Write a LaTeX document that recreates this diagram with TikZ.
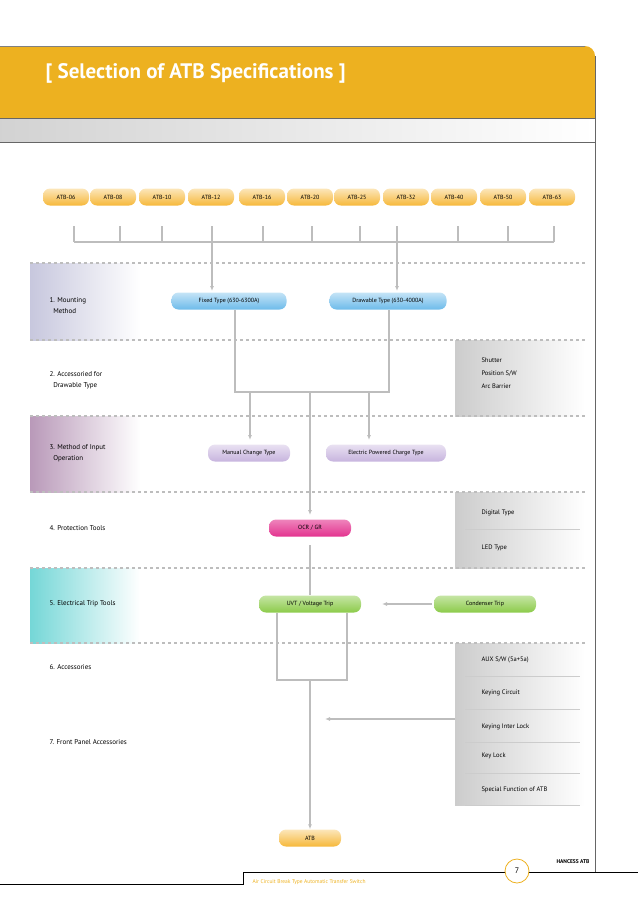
\documentclass[tikz,border=0pt]{standalone}
\usepackage{fontspec}
\setmainfont{PT Sans}
\setsansfont{PT Sans}
\usetikzlibrary{calc,arrows.meta}
\definecolor{hdr}{HTML}{EDB120}
\definecolor{ln}{HTML}{BDBDBD}
\definecolor{pillO}{HTML}{F6B83A}
\definecolor{pillB}{HTML}{6DBBEA}
\definecolor{pillP}{HTML}{C7B4DE}
\definecolor{pillM}{HTML}{E3338F}
\definecolor{pillG}{HTML}{8CCB4A}
\tikzset{
  pill/.style={rounded corners=7pt, minimum height=17pt, inner sep=1pt, font=\fontsize{6}{7}\selectfont},
  atb/.style={pill, minimum width=46pt, top color=pillO!35, bottom color=pillO},
  blue/.style={pill, minimum width=115pt, top color=pillB!40, bottom color=pillB},
  purp/.style={pill, top color=pillP!40, bottom color=pillP},
  mag/.style={pill, minimum width=82pt, top color=pillM!60, bottom color=pillM},
  grn/.style={pill, minimum width=102pt, top color=pillG!50, bottom color=pillG},
  wire/.style={ln, line width=1.2pt},
  arr/.style={wire, -{Latex[length=5pt,width=4pt]}},
  sep/.style={ln, dashed, line width=1.2pt},
  lbl/.style={anchor=west, align=left, font=\fontsize{7}{11}\selectfont},
  rlbl/.style={anchor=west, align=left, font=\fontsize{6.5}{13}\selectfont},
}
\begin{document}
\begin{tikzpicture}[x=1pt,y=-1pt]
\useasboundingbox (0,0) rectangle (638,903);
% header
\fill[hdr] (0,46) -- (585,46) to[out=0,in=90] (595,56) -- (595,118) -- (0,118) -- cycle;
\draw[gray] (0,46) -- (585,46);
\shade[left color=gray!35, right color=white] (0,118) rectangle (595,142);
\draw[gray!80!black] (0,118) -- (595,118) (0,142) -- (595,142);
\draw[gray!80!black, line width=0.8pt] (595,56) -- (595,872);
\node[anchor=west, text=white, font=\fontsize{21}{24}\bfseries] (title) at (42,73) {[ Selection of ATB Specifications ]};
% bands
\shade[left color=blue!25!gray!35, right color=white] (30,263) rectangle (140,340);
\shade[left color=violet!45!gray!55, right color=white] (30,416) rectangle (140,492);
\shade[left color=cyan!55!gray!70, right color=white] (30,568) rectangle (140,643);
\shade[left color=gray!40, right color=white] (455,340) rectangle (585,416);
\shade[left color=gray!40, right color=white] (455,492) rectangle (585,568);
\shade[left color=gray!40, right color=white] (455,643) rectangle (585,805);
\foreach \y in {263,340,416,492,568,643} \draw[sep] (30,\y) -- (585,\y);
% ratings
\foreach \n/\x/\t in {06/66/74,08/113/120,10/162/162,12/211/212,16/262/263,20/310/312,25/357/360,32/406/397,40/454/458,50/503/508,63/552/554}{
  \node[atb] (r\n) at (\x,197) {ATB-\n};
  \draw[wire] (\t,226) -- (\t,242);
}
\draw[wire] (74,242) -- (554,242);
% mounting
\node[blue] (fixed) at (229,301) {Fixed Type (630-6300A)};
\node[blue, minimum width=117pt] (draw) at (388,301) {Drawable Type (630-4000A)};
\draw[arr] (212,242) -- (212,291);
\draw[arr] (397,242) -- (397,291);
\coordinate (jl) at (235,392);
\coordinate (jr) at (389,392);
\draw[wire] (fixed.south -| jl) -- (jl) -- (jr) -- (draw.south -| jr);
% input
\node[purp, minimum width=82pt] (manual) at (249,453) {Manual Change Type};
\node[purp, minimum width=120pt] (elec) at (386,453) {Electric Powered Charge Type};
\draw[arr] (250,392) -- (250,440);
\draw[arr] (369,392) -- (369,440);
% protection
\node[mag] (ocr) at (310,528) {OCR / GR};
\draw[arr] (310,392) -- (310,515);
% trip
\node[grn] (uvt) at (310,604) {UVT / Voltage Trip};
\node[grn] (cond) at (485,604) {Condenser Trip};
\draw[wire] (310,545) -- (uvt.north);
\draw[arr] ([xshift=-2pt]cond.west) -- (382,604);
\coordinate (ja) at (277,680);
\coordinate (jb) at (347,680);
\draw[wire] (uvt.south -| ja) -- (ja) -- (jb) -- (uvt.south -| jb);
% result
\node[atb, minimum width=62pt] (res) at (310,838) {ATB};
\draw[arr] (310,680) -- (res.north);
\draw[arr] (455,719) -- (325,719);
% left labels
\node[lbl] (l1) at (46,306) {1. Mounting\\\ \ Method};
\node[lbl] (l2) at (46,380) {2. Accessoried for\\\ \ Drawable Type};
\node[lbl] (l3) at (46,453) {3. Method of Input\\\ \ Operation};
\node[lbl] (l4) at (46,528) {4. Protection Tools};
\node[lbl] (l5) at (46,604) {5. Electrical Trip Tools};
\node[lbl] (l6) at (46,667) {6. Accessories};
\node[lbl] (l7) at (46,742) {7. Front Panel Accessories};
% right panels
\node[rlbl] (acc) at (478,373) {Shutter\\Position S/W\\Arc Barrier};
\node[rlbl] (dig) at (478,513) {Digital Type};
\node[rlbl] (led) at (478,548) {LED Type};
\draw[gray!40] (465,529) -- (580,529);
\node[rlbl] (f1) at (478,660) {AUX S/W (5a+5a)};
\node[rlbl] (f2) at (478,693) {Keying Circuit};
\node[rlbl] (f3) at (478,727) {Keying Inter Lock};
\node[rlbl] (f4) at (478,756) {Key Lock};
\node[rlbl] (f5) at (478,790) {Special Function of ATB};
\foreach \y in {676,709,742,773,805} \draw[gray!40] (465,\y) -- (580,\y);
% footer
\draw[black, line width=0.7pt] (0,884) -- (243,884) -- (243,872) -- (638,872);
\draw[hdr, fill=white, line width=0.8pt] (517,871) circle (12);
\node[font=\fontsize{8}{9}\selectfont] (pg) at (517,871) {7};
\node[font=\fontsize{5.5}{6}\bfseries, anchor=east] (brand) at (593,862) {HANCESS ATB};
\node[font=\fontsize{5.5}{6}\selectfont, text=hdr, anchor=west] (foot) at (249,882) {Air Circuit Break Type Automatic Transfer Switch};
\end{tikzpicture}
\end{document}
